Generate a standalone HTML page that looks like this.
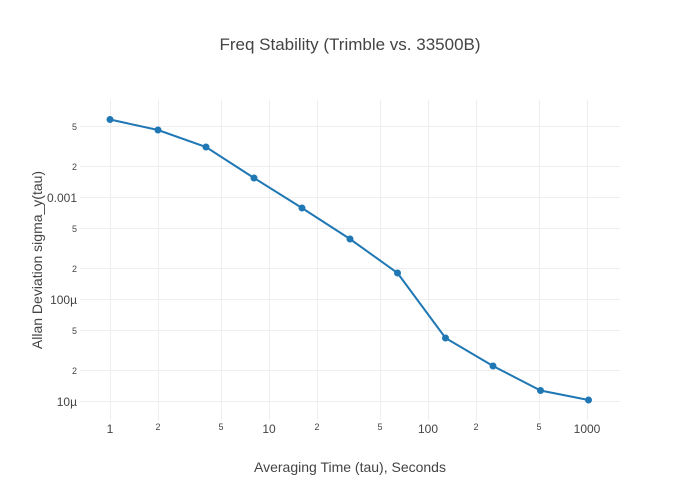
<!DOCTYPE html>
<html><head><style>body{margin:0;background:#fff}svg{display:block}text{font-family:"Liberation Sans",sans-serif;fill:#444}</style></head>
<body>
<svg width="700" height="500" viewBox="0 0 700 500">
<g stroke="#eee" stroke-width="1">
<line x1="80" x2="620" y1="126.5" y2="126.5"/><line x1="80" x2="620" y1="166.5" y2="166.5"/><line x1="80" x2="620" y1="197.5" y2="197.5"/>
<line x1="80" x2="620" y1="228.5" y2="228.5"/><line x1="80" x2="620" y1="268.5" y2="268.5"/><line x1="80" x2="620" y1="299.5" y2="299.5"/>
<line x1="80" x2="620" y1="330.5" y2="330.5"/><line x1="80" x2="620" y1="370.5" y2="370.5"/><line x1="80" x2="620" y1="401.5" y2="401.5"/>
<line y1="100" y2="420" x1="110.5" x2="110.5"/><line y1="100" y2="420" x1="158.5" x2="158.5"/><line y1="100" y2="420" x1="221.5" x2="221.5"/>
<line y1="100" y2="420" x1="269.5" x2="269.5"/><line y1="100" y2="420" x1="317.5" x2="317.5"/><line y1="100" y2="420" x1="380.5" x2="380.5"/>
<line y1="100" y2="420" x1="428.5" x2="428.5"/><line y1="100" y2="420" x1="476.5" x2="476.5"/><line y1="100" y2="420" x1="539.5" x2="539.5"/>
<line y1="100" y2="420" x1="587.5" x2="587.5"/>
</g>
<polyline fill="none" stroke="#1f77b4" stroke-width="2" points="110,119.5 158,130 206,147 254,178 302,208 350,239 397.5,273 445.5,338 493,366 540.5,390.5 588.5,400"/>
<g fill="#1f77b4">
<circle cx="110" cy="119.5" r="3.5"/><circle cx="158" cy="130" r="3.5"/><circle cx="206" cy="147" r="3.5"/><circle cx="254" cy="178" r="3.5"/>
<circle cx="302" cy="208" r="3.5"/><circle cx="350" cy="239" r="3.5"/><circle cx="397.5" cy="273" r="3.5"/><circle cx="445.5" cy="338" r="3.5"/>
<circle cx="493" cy="366" r="3.5"/><circle cx="540.5" cy="390.5" r="3.5"/><circle cx="588.5" cy="400" r="3.5"/>
</g>
<text x="350" y="50" text-anchor="middle" font-size="17">Freq Stability (Trimble vs. 33500B)</text>
<g text-anchor="end">
<text x="77" y="130" font-size="9">5</text><text x="77" y="170" font-size="9">2</text><text x="77" y="202" font-size="12">0.001</text>
<text x="77" y="232" font-size="9">5</text><text x="77" y="272" font-size="9">2</text><text x="77" y="304" font-size="12">100µ</text>
<text x="77" y="334" font-size="9">5</text><text x="77" y="374" font-size="9">2</text><text x="77" y="406" font-size="12">10µ</text>
</g>
<g text-anchor="middle">
<text x="110" y="433" font-size="12">1</text><text x="158" y="430" font-size="9">2</text><text x="221" y="430" font-size="9">5</text>
<text x="269" y="433" font-size="12">10</text><text x="317" y="430" font-size="9">2</text><text x="380" y="430" font-size="9">5</text>
<text x="428" y="433" font-size="12">100</text><text x="476" y="430" font-size="9">2</text><text x="539" y="430" font-size="9">5</text>
<text x="587" y="433" font-size="12">1000</text>
<text x="350" y="472" font-size="14">Averaging Time (tau),  Seconds</text>
<text transform="translate(42,260) rotate(-90)" font-size="14">Allan Deviation sigma_y(tau)</text>
</g>
</svg>
</body></html>
